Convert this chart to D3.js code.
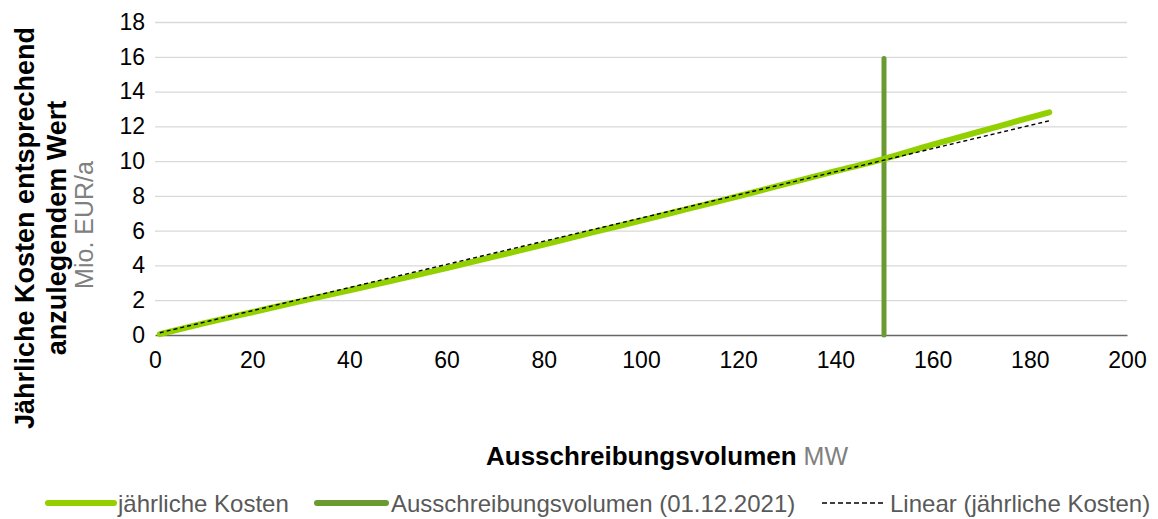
<!DOCTYPE html>
<html>
<head>
<meta charset="utf-8">
<script src="https://cdn.jsdelivr.net/npm/d3@7"></script>
<style>
  html, body { margin: 0; padding: 0; background: #fff; }
  svg { display: block; font-family: "Liberation Sans", Arial, sans-serif; }
</style>
</head>
<body>
<svg id="chart" width="1158" height="519"></svg>
<script>
// Annual cost curve (MW -> Mio. EUR/a)
const volumeMW   = [1, 10, 20, 30, 40, 50, 60, 70, 80, 90, 100, 110, 120, 130, 140, 150, 160, 170, 180, 184];
const annualCost = [0.05, 0.67, 1.31, 1.95, 2.57, 3.2, 3.85, 4.52, 5.2, 5.9, 6.58, 7.28, 7.98, 8.7, 9.42, 10.13, 10.95, 11.72, 12.5, 12.8];

// Tender volume marker (01.12.2021)
const tenderX = [150, 150];
const tenderY = [0, 15.9];

// Linear trend of the annual costs
const trendX = [1, 184];
const trendY = [0.13, 12.32];

// Axis ticks
const xTicks = [0, 20, 40, 60, 80, 100, 120, 140, 160, 180, 200];
const yTicks = [0, 2, 4, 6, 8, 10, 12, 14, 16, 18];

const legendLabels = ["jährliche Kosten", "Ausschreibungsvolumen (01.12.2021)", "Linear (jährliche Kosten)"];

const colCost = "#92d000";
const colTender = "#6a9a30";

const svg = d3.select("#chart");

const x = d3.scaleLinear().domain([0, 200]).range([155, 1127]);
const y = d3.scaleLinear().domain([0, 18]).range([335, 22]);

// Horizontal gridlines
const grid = svg.append("g").attr("transform", `translate(${x(0)},0)`)
  .call(d3.axisLeft(y).tickValues(yTicks.filter(d => d > 0)).tickSize(-(x(200) - x(0))).tickFormat(""));
grid.select(".domain").remove();
grid.selectAll("line").attr("stroke", "#d9d9d9").attr("stroke-width", 1.3);

// Y tick labels
const yAxis = svg.append("g").attr("transform", `translate(${x(0)},0)`)
  .call(d3.axisLeft(y).tickValues(yTicks).tickSize(0).tickPadding(10).tickFormat(d3.format("d")));
yAxis.select(".domain").remove();
yAxis.selectAll("text").attr("font-size", 23).attr("fill", "#000")
  .attr("font-family", "Liberation Sans, Arial, sans-serif");

// X axis
const xAxis = svg.append("g").attr("transform", `translate(0,${y(0)})`)
  .call(d3.axisBottom(x).tickValues(xTicks).tickSize(0).tickPadding(17).tickFormat(d3.format("d")));
xAxis.select(".domain").attr("stroke", "#666").attr("stroke-width", 1.6);
xAxis.selectAll("text").attr("font-size", 23).attr("fill", "#000")
  .attr("font-family", "Liberation Sans, Arial, sans-serif");

// Tender volume marker
svg.append("path")
  .attr("d", d3.line().x((d, i) => x(tenderX[i])).y(d => y(d))(tenderY))
  .attr("fill", "none").attr("stroke", colTender).attr("stroke-width", 5)
  .attr("stroke-linecap", "round");

// Annual cost curve
const costLine = d3.line().x((d, i) => x(volumeMW[i])).y(d => y(d)).curve(d3.curveMonotoneX);
svg.append("path")
  .attr("d", costLine(annualCost))
  .attr("fill", "none").attr("stroke", colCost).attr("stroke-width", 6)
  .attr("stroke-linecap", "round").attr("stroke-linejoin", "round");

// Linear trend
svg.append("path")
  .attr("d", d3.line().x((d, i) => x(trendX[i])).y(d => y(d))(trendY))
  .attr("fill", "none").attr("stroke", "#000").attr("stroke-width", 1.4)
  .attr("stroke-dasharray", "4,3");

// X axis title
const xt = svg.append("text").attr("x", 667).attr("y", 465).attr("text-anchor", "middle");
xt.append("tspan").text("Ausschreibungsvolumen").attr("font-weight", "bold").attr("font-size", 26).attr("fill", "#000");
xt.append("tspan").text(" MW").attr("font-size", 25).attr("fill", "#808080");

// Y axis title
const yt = svg.append("g").attr("transform", "rotate(-90)");
yt.append("text").attr("x", -228).attr("y", 34).attr("text-anchor", "middle")
  .attr("font-weight", "bold").attr("font-size", 27).attr("fill", "#000")
  .text("Jährliche Kosten entsprechend");
yt.append("text").attr("x", -228).attr("y", 66).attr("text-anchor", "middle")
  .attr("font-weight", "bold").attr("font-size", 27).attr("fill", "#000")
  .text("anzulegendem Wert");
yt.append("text").attr("x", -225).attr("y", 93).attr("text-anchor", "middle")
  .attr("font-size", 25).attr("fill", "#808080")
  .text("Mio. EUR/a");

// Legend
const legendY = 503;
const legendItems = [
  { x0: 48, x1: 114, tx: 118, stroke: colCost, width: 6, dash: null, cap: "round" },
  { x0: 317, x1: 386, tx: 391, stroke: colTender, width: 6, dash: null, cap: "round" },
  { x0: 822, x1: 886, tx: 890, stroke: "#000", width: 1.3, dash: "5,3", cap: "butt" }
];
const lg = svg.append("g");
legendItems.forEach((it, i) => {
  lg.append("line").attr("x1", it.x0).attr("x2", it.x1).attr("y1", legendY).attr("y2", legendY)
    .attr("stroke", it.stroke).attr("stroke-width", it.width)
    .attr("stroke-linecap", it.cap).attr("stroke-dasharray", it.dash);
  lg.append("text").attr("x", it.tx).attr("y", legendY + 8.5)
    .attr("font-size", 24).attr("fill", "#595959").text(legendLabels[i]);
});
</script>
</body>
</html>
